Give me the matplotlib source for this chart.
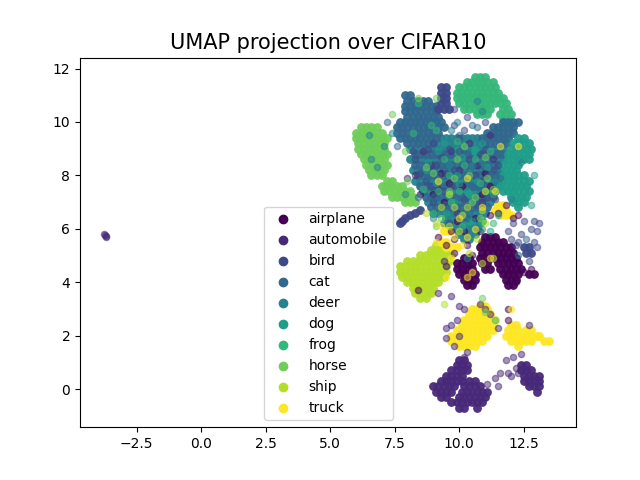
import numpy as np
import matplotlib.pyplot as plt

class_names = ['airplane', 'automobile', 'bird', 'cat', 'deer', 'dog', 'frog', 'horse', 'ship', 'truck']

# dense parts of each cluster: (y, [x values])
airplane_core = [
    (5.7, [11.0, 11.2, 11.4]),
    (5.5, [10.9, 11.1, 11.3, 11.5, 11.7]),
    (5.3, [10.8, 11.0, 11.2, 11.4, 11.6, 11.8, 12.0]),
    (5.1, [10.9, 11.1, 11.3, 11.5, 11.7, 11.9, 12.1]),
    (4.9, [10.2, 10.4, 10.8, 11.0, 11.2, 11.4, 11.6, 11.8, 12.0, 12.2]),
    (4.7, [9.9, 10.1, 10.3, 10.5, 10.9, 11.1, 11.5, 11.7, 11.9, 12.1, 12.3]),
    (4.5, [9.9, 10.1, 10.3, 10.5, 11.0, 11.2, 11.6, 11.8, 12.0, 12.2, 12.4]),
    (4.3, [10.0, 10.2, 10.4, 10.6, 11.7, 11.9, 12.1, 12.3, 12.7, 12.9]),
    (4.1, [10.2, 10.4, 10.6, 11.8, 12.0, 12.2]),
    (3.9, [10.3, 10.5, 11.9, 12.1]),
]
automobile_core = [
    (1.1, [10.0, 10.2]),
    (0.9, [9.9, 10.1, 10.3, 12.4, 12.6]),
    (0.7, [9.7, 9.9, 10.1, 10.3, 12.4, 12.6, 12.8]),
    (0.5, [9.5, 9.7, 9.9, 10.1, 12.5, 12.7, 12.9, 13.1]),
    (0.3, [9.3, 9.5, 9.7, 9.9, 10.1, 10.4, 10.6, 12.5, 12.7, 12.9, 13.1]),
    (0.1, [9.0, 9.2, 9.4, 9.6, 9.8, 10.2, 10.4, 10.6, 10.8, 12.7, 12.9, 13.1]),
    (-0.1, [9.1, 9.3, 9.5, 9.7, 10.1, 10.3, 10.5, 10.7, 10.9, 11.1, 13.0]),
    (-0.3, [9.3, 9.5, 10.0, 10.2, 10.4, 10.6, 10.8, 11.0]),
    (-0.5, [9.7, 9.9, 10.1, 10.3, 10.5, 10.7, 10.9]),
    (-0.7, [10.0, 10.2, 10.7]),
]
bird_core = [
    (11.3, [9.3, 9.5]),
    (11.1, [9.3, 9.5]),
    (10.9, [9.3, 9.5]),
    (10.7, [9.3, 9.5]),
    (10.5, [9.2, 9.4, 9.6]),
    (6.7, [8.5]),
    (6.6, [8.3]),
    (6.5, [8.1]),
    (6.4, [7.9]),
    (6.3, [7.8]),
    (6.2, [7.7]),
    (5.3, [12.5, 12.7]),
    (5.1, [12.6, 12.8]),
]
cat_core = [
    (11.0, [7.9, 8.1]),
    (10.8, [8.0, 8.2, 8.4, 8.6, 8.8]),
    (10.6, [7.9, 8.1, 8.3, 8.5, 8.7, 8.9, 9.1]),
    (10.4, [7.9, 8.1, 8.3, 8.5, 8.7, 8.9, 9.1]),
    (10.2, [8.0, 8.2, 8.4, 8.6, 8.8, 9.0, 9.2]),
    (10.0, [7.7, 7.9, 8.1, 8.3, 8.5, 8.7, 8.9, 9.1, 9.3, 11.7, 11.9, 12.1, 12.3]),
    (9.8, [7.6, 7.8, 8.0, 8.2, 8.4, 8.6, 8.8, 9.0, 9.2, 9.4, 11.3, 11.5, 11.7, 11.9, 12.1]),
    (9.6, [7.6, 7.8, 8.0, 8.2, 8.4, 8.6, 8.8, 9.0, 9.2, 11.1, 11.3, 11.5, 11.7, 11.9, 12.1]),
    (9.4, [7.7, 7.9, 8.1, 8.3, 8.5, 8.7, 8.9, 9.1, 10.9, 11.1, 11.3, 11.5, 11.7, 11.9]),
    (9.2, [8.0, 8.2, 8.4, 8.6, 8.8, 9.0, 11.0, 11.2, 11.4, 11.6, 11.8]),
    (8.8, [8.3, 8.5, 8.7, 8.9, 9.1, 9.3, 9.5, 9.7, 9.9, 10.1, 10.3, 10.5, 10.7, 10.9, 11.1, 11.3, 11.5, 11.7]),
    (8.4, [8.3, 8.5, 8.7, 8.9, 9.1, 9.3, 9.5, 9.7, 9.9, 10.1, 10.3, 10.5, 10.7, 10.9, 11.1, 11.3, 11.5]),
    (8.0, [8.4, 8.6, 8.8, 9.0, 9.2, 9.4, 9.6, 9.8, 10.0, 10.2, 10.4, 10.6, 10.8, 11.0, 11.2, 11.4, 11.6]),
    (7.6, [8.5, 8.7, 8.9, 9.1, 9.3, 9.5, 9.7, 9.9, 10.1, 10.3, 10.5, 10.7, 10.9, 11.1, 11.3, 11.5]),
    (7.2, [8.7, 8.9, 9.1, 9.3, 9.5, 9.7, 9.9, 10.1, 10.3, 10.5, 10.7, 10.9, 11.1, 11.3]),
    (6.8, [8.9, 9.1, 9.3, 9.5, 9.7, 9.9, 10.1, 10.3, 10.5, 10.7, 10.9, 11.1]),
]
deer_core = [
    (9.4, [9.3, 9.5, 9.7, 9.9, 10.1, 10.3, 10.5, 10.7]),
    (9.2, [9.2, 9.4, 9.6, 9.8, 10.0, 10.2, 10.4, 10.6, 10.8]),
    (9.0, [8.1, 8.3, 8.5, 8.7, 8.9, 9.1, 9.3, 9.5, 9.7, 9.9, 10.1, 10.3, 10.5, 10.7, 10.9, 11.1, 11.3, 11.5, 11.7]),
    (8.6, [8.1, 8.3, 8.5, 8.7, 8.9, 9.1, 9.3, 9.5, 9.7, 9.9, 10.1, 10.3, 10.5, 10.7, 10.9, 11.1, 11.3, 11.5, 11.7]),
    (8.2, [8.2, 8.4, 8.6, 8.8, 9.0, 9.2, 9.4, 9.6, 9.8, 10.0, 10.2, 10.4, 10.6, 10.8, 11.0, 11.2, 11.4, 11.6]),
    (7.8, [8.3, 8.5, 8.7, 8.9, 9.1, 9.3, 9.5, 9.7, 9.9, 10.1, 10.3, 10.5, 10.7, 10.9, 11.1, 11.3, 11.5]),
    (7.4, [8.6, 8.8, 9.0, 9.2, 9.4, 9.6, 9.8, 10.0, 10.2, 10.4, 10.6, 10.8, 11.0, 11.2, 11.4]),
    (7.0, [8.8, 9.0, 9.2, 9.4, 9.6, 9.8, 10.0, 10.2, 10.4, 10.6, 10.8, 11.0, 11.2]),
    (6.6, [9.0, 9.2, 9.4, 9.6, 9.8, 10.0, 10.2, 10.4, 10.6, 10.8, 11.0]),
    (6.4, [9.5, 9.7, 9.9, 10.1, 10.3, 10.5, 10.7]),
    (6.2, [9.4, 9.6, 9.8, 10.0, 10.2, 10.4, 10.6, 10.8]),
    (6.0, [9.9, 10.1, 10.3, 10.5, 10.7]),
    (5.8, [10.0, 10.2, 10.4, 10.6]),
    (5.6, [10.2, 10.4]),
]
dog_core = [
    (9.4, [12.3, 12.5]),
    (9.2, [12.1, 12.3, 12.5, 12.7]),
    (9.0, [12.0, 12.2, 12.4, 12.6, 12.8]),
    (8.8, [11.9, 12.1, 12.3, 12.5, 12.7]),
    (8.6, [11.9, 12.1, 12.3, 12.5, 12.7]),
    (8.4, [11.7, 11.9, 12.1, 12.3]),
    (8.2, [11.8, 12.0, 12.2]),
    (8.0, [11.7, 11.9, 12.1, 12.3, 12.5]),
    (7.8, [11.7, 11.9, 12.1, 12.3, 12.5, 12.7]),
    (7.6, [11.6, 11.8, 12.0, 12.2, 12.4, 12.6]),
    (7.4, [11.7, 11.9, 12.1, 12.3, 12.5, 12.7]),
    (7.2, [12.0, 12.2, 12.4, 12.6]),
    (7.0, [12.1, 12.3, 12.5]),
    (6.8, [12.3]),
    (8.9, [9.9, 10.6]),
    (7.3, [9.6, 10.4]),
    (6.3, [10.4, 10.9]),
]
frog_core = [
    (11.7, [10.6, 10.8, 11.0]),
    (11.5, [10.3, 10.5, 10.7, 10.9, 11.1, 11.3]),
    (11.3, [10.0, 10.2, 10.4, 10.6, 10.8, 11.0, 11.2, 11.4]),
    (11.1, [9.9, 10.1, 10.3, 10.5, 10.7, 10.9, 11.1, 11.3, 11.5]),
    (10.9, [9.9, 10.1, 10.3, 10.5, 10.7, 10.9, 11.1, 11.3, 11.5, 11.7]),
    (10.7, [10.0, 10.2, 10.4, 10.6, 10.8, 11.0, 11.2, 11.4, 11.6, 11.8]),
    (10.5, [10.2, 10.4, 10.6, 10.8, 11.0, 11.2, 11.7, 11.9]),
    (10.3, [10.7, 10.9, 11.1, 11.6, 11.8, 12.0]),
    (10.1, [11.7, 11.9]),
]
horse_core = [
    (9.8, [6.2, 6.4, 6.6, 6.8]),
    (9.6, [6.0, 6.2, 6.4, 6.6, 6.8, 7.0]),
    (9.4, [6.0, 6.2, 6.4, 6.6, 6.8, 7.0, 7.2]),
    (9.2, [6.1, 6.3, 6.5, 6.7, 6.9, 7.1]),
    (9.0, [6.1, 6.3, 6.5, 6.7, 6.9, 7.1]),
    (8.8, [6.2, 6.4, 6.6, 6.8, 7.0, 7.2]),
    (8.6, [6.3, 6.5, 6.7, 6.9, 7.1]),
    (8.4, [6.4, 6.6, 6.8, 7.0, 7.2]),
    (8.2, [6.5, 6.7, 6.9, 7.1]),
    (8.0, [6.6, 6.8, 7.0]),
    (7.8, [7.2, 7.4]),
    (7.6, [7.0, 7.2, 7.4, 7.6, 7.8]),
    (7.4, [7.1, 7.3, 7.5, 7.7, 7.9, 8.1]),
    (7.2, [7.4, 7.6, 7.8, 8.0, 8.2]),
    (7.0, [7.9, 8.1, 8.3]),
    (8.5, [9.4, 9.6]),
    (8.7, [9.3, 9.5]),
]
ship_core = [
    (5.4, [9.1, 9.3]),
    (5.2, [8.9, 9.1, 9.3, 9.5]),
    (5.0, [8.5, 8.7, 8.9, 9.1, 9.3, 9.5, 9.7]),
    (4.8, [8.0, 8.2, 8.4, 8.6, 8.8, 9.0, 9.2, 9.4, 9.6]),
    (4.6, [7.7, 7.9, 8.1, 8.3, 8.5, 8.7, 8.9, 9.1, 9.3, 9.5]),
    (4.4, [7.7, 7.9, 8.1, 8.3, 8.5, 8.7, 8.9, 9.1, 9.3, 9.5]),
    (4.2, [7.8, 8.0, 8.2, 8.4, 8.6, 8.8, 9.0, 9.2, 9.4]),
    (4.0, [8.0, 8.2, 8.4, 8.6, 8.8, 9.0, 9.2]),
    (3.8, [8.2, 8.4, 8.6, 8.8, 9.0]),
    (3.6, [8.3, 8.5, 8.7, 8.9]),
    (3.4, [8.5, 8.7]),
]
truck_core = [
    (3.1, [10.8, 11.0]),
    (3.0, [10.5, 10.7, 10.9, 11.1]),
    (2.8, [10.4, 10.6, 10.8, 11.0, 11.2]),
    (2.6, [10.2, 10.4, 10.6, 10.8, 11.0, 11.2, 11.4]),
    (2.4, [10.1, 10.3, 10.5, 10.7, 10.9, 11.1, 11.3, 12.0, 12.2]),
    (2.2, [9.9, 10.1, 10.3, 10.5, 10.7, 10.9, 11.1, 11.3, 11.9, 12.1, 12.3, 12.6, 12.8]),
    (2.0, [9.7, 9.9, 10.1, 10.3, 10.5, 10.7, 10.9, 11.1, 11.8, 12.0, 12.2, 12.4, 12.6, 12.8, 13.0, 13.1]),
    (1.8, [9.7, 9.9, 10.1, 10.3, 10.5, 10.7, 10.9, 12.0, 12.2, 12.4, 12.6, 12.8, 13.3, 13.5]),
    (1.6, [10.0, 10.2, 10.4, 10.6, 12.3]),
    (6.9, [11.5, 11.7]),
    (6.7, [11.4, 11.6, 11.8]),
    (6.5, [11.6, 11.8, 12.0]),
    (5.9, [9.4, 9.6]),
    (5.5, [9.3, 9.5]),
    (5.3, [9.5, 9.7, 9.9]),
]

# lone points scattered over the clusters
airplane_sparse = [(9.7, 5.9), (10.3, 5.4), (12.3, 6.5), (12.1, 6.4), (11.8, 6.9), (10.9, 7.3), (9.6, 7.7), (10.6, 6.4), (9.3, 8.1), (11.2, 7.6),
                   (9.5, 4.6), (9.8, 5.1), (10.5, 5.0), (12.5, 4.4), (12.8, 4.5), (12.2, 4.0), (8.4, 3.7), (11.9, 2.6), (11.9, 3.0), (9.8, 5.6),
                   (9.2, 5.7), (9.5, 5.4), (9.9, 6.3), (10.2, 5.9), (10.8, 5.9), (11.2, 6.5), (11.5, 6.6), (9.0, 7.3), (9.4, 7.0), (10.1, 7.6), (8.5, 7.3), (11.0, 8.1)]
automobile_sparse = [(-3.75, 5.8), (-3.73, 5.77), (-3.7, 5.74), (-3.68, 5.71), (10.0, 3.1), (10.2, 3.0), (9.9, 2.6), (9.7, 2.4), (9.5, 1.9), (9.8, 1.6), (9.5, 2.3), (11.2, 2.8), (12.7, 2.4), (11.5, 2.3),
                     (10.2, 1.2), (10.3, 1.4), (11.6, 0.6), (11.4, 0.4), (11.1, 0.2), (11.5, 0.1), (11.9, 0.6), (12.2, 0.8), (12.0, 0.5), (12.3, 0.6),
                     (11.8, 1.1), (12.4, 1.3), (12.1, 1.2), (9.4, 4.8), (10.8, 3.2), (11.0, 3.0), (10.0, 2.0), (9.7, 3.5), (9.2, 3.6),
                     (8.0, 7.9), (9.2, 7.5), (10.7, 8.4), (8.9, 8.4), (9.7, 8.9), (10.4, 9.2), (10.9, 7.0), (9.9, 6.6), (8.6, 8.9), (11.3, 8.6), (8.3, 8.0), (10.0, 8.2), (11.2, 9.5)]
bird_sparse = [(12.1, 6.2), (12.5, 6.3), (12.9, 6.3), (13.1, 6.2), (12.8, 6.0), (13.0, 5.9), (12.4, 5.8), (12.0, 5.6), (11.9, 5.9), (12.9, 5.5),
               (13.0, 5.3), (12.3, 5.5), (12.7, 4.8), (12.2, 5.4), (9.0, 9.2), (9.8, 9.9), (10.2, 9.7), (9.1, 8.4), (8.7, 7.8), (9.4, 7.4), (10.0, 8.9),
               (10.6, 8.0), (11.3, 8.2), (10.2, 7.1), (9.8, 8.2), (8.3, 8.6), (9.0, 7.0), (11.0, 9.0), (11.4, 7.1), (8.5, 8.1), (10.9, 7.8), (9.6, 9.0), (9.8, 10.5), (10.3, 10.2), (11.0, 10.0),
               (8.2, 8.9), (8.8, 9.0), (9.3, 8.7), (9.7, 7.6), (10.4, 8.6), (10.8, 8.8), (11.5, 8.4), (10.3, 6.4), (9.6, 6.2), (8.9, 7.6), (11.1, 7.2), (10.7, 6.9), (10.0, 9.4), (9.5, 8.1)]
cat_sparse = [(7.6, 9.1), (12.3, 5.0), (12.6, 5.6), (7.2, 10.0), (9.0, 7.2), (10.4, 6.6), (11.6, 7.9), (10.0, 9.5), (8.8, 7.9), (11.7, 9.3), (10.7, 9.8), (8.4, 7.2),
              (10.5, 9.9), (9.2, 8.0), (9.8, 7.2), (10.6, 7.6), (11.2, 8.0), (8.8, 8.7), (9.5, 6.9), (10.1, 6.0)]
deer_sparse = [(9.7, 9.7), (9.9, 10.0), (10.7, 10.8), (10.9, 10.4), (7.4, 9.6), (7.1, 9.1), (6.5, 9.5), (6.6, 8.6), (6.8, 8.3), (10.3, 4.9),
               (9.0, 6.4), (7.9, 7.3), (12.4, 8.5), (12.0, 7.1), (9.6, 8.4), (10.5, 8.4), (9.3, 7.8), (10.9, 8.5), (11.4, 7.8)]
dog_sparse = [(9.2, 8.9), (10.5, 6.3), (10.9, 6.0), (11.2, 5.9), (9.9, 8.0), (10.6, 9.0), (8.8, 8.5), (11.1, 8.3), (10.3, 7.4), (9.5, 6.6), (11.5, 6.5), (10.0, 7.7), (12.9, 8.0), (12.8, 6.9),
              (9.1, 7.7), (9.8, 7.0), (10.7, 7.8), (11.3, 7.3), (8.7, 8.2), (10.1, 8.7), (10.9, 9.2), (9.4, 9.2)]
frog_sparse = [(9.1, 9.7), (8.4, 10.7), (9.9, 9.3), (8.9, 9.9), (10.2, 8.4), (9.4, 8.6), (10.8, 7.7), (9.0, 6.6), (8.2, 9.6), (11.2, 8.9), (10.1, 6.1), (11.3, 6.2), (9.7, 7.0), (8.6, 7.5), (11.4, 2.6),
               (10.6, 8.6), (9.2, 7.4), (10.0, 7.4), (11.0, 7.4), (9.6, 8.0)]
horse_sparse = [(7.4, 10.3), (9.1, 10.9), (8.4, 10.9), (7.9, 8.9), (8.7, 8.3), (9.9, 8.6), (10.6, 7.2), (11.0, 8.7), (11.3, 7.5), (9.1, 6.1), (9.8, 7.9), (10.4, 8.0), (8.0, 7.8), (10.2, 9.1), (10.9, 3.4), (11.0, 2.9), (9.3, 6.4),
                (9.0, 8.1), (9.6, 7.4), (10.5, 7.0), (11.1, 7.9), (10.8, 6.4)]
ship_sparse = [(9.1, 6.2), (9.6, 6.1), (10.4, 5.1), (10.0, 5.9), (10.9, 4.7), (10.7, 5.6), (10.3, 6.8), (10.9, 6.7), (9.8, 6.8), (11.0, 7.4), (11.3, 4.9), (8.7, 6.6), (9.6, 7.3), (9.4, 3.2),
               (9.3, 6.8), (10.1, 6.5), (11.0, 6.2)]
truck_sparse = [(12.3, 9.1), (11.6, 9.1), (10.9, 6.8), (10.3, 5.7), (10.1, 5.4), (10.5, 4.4), (10.3, 4.2), (11.2, 4.9), (11.4, 7.4), (10.0, 6.4), (12.0, 3.0), (9.5, 4.2), (9.2, 7.8), (10.3, 7.9), (9.7, 4.9),
                (9.8, 5.7), (9.3, 6.1), (10.6, 6.0), (9.1, 5.5)]

core_rows = [airplane_core, automobile_core, bird_core, cat_core, deer_core, dog_core, frog_core, horse_core, ship_core, truck_core]
sparse_points = [airplane_sparse, automobile_sparse, bird_sparse, cat_sparse, deer_sparse, dog_sparse, frog_sparse, horse_sparse, ship_sparse, truck_sparse]


def flatten_rows(rows):
    x = []
    y = []
    for row_y, row_x in rows:
        for value in row_x:
            x.append(value)
            y.append(row_y)
    return x, y


def main():
    colors = plt.cm.viridis(np.linspace(0, 1, len(class_names)))

    fig, ax = plt.subplots()

    # the dense clusters first, then the lone points over them
    for i in [6, 7, 4, 3, 5, 2, 8, 0, 1, 9]:
        x, y = flatten_rows(core_rows[i])
        ax.scatter(x, y, s=40, color=colors[i], alpha=0.95, linewidths=0)
    for i in range(len(class_names)):
        x = [p[0] for p in sparse_points[i]]
        y = [p[1] for p in sparse_points[i]]
        ax.scatter(x, y, s=20, color=colors[i], alpha=0.5)

    # empty scatters so the legend gets solid markers
    for i, name in enumerate(class_names):
        ax.scatter([], [], color=colors[i], label=name)
    ax.legend(loc='lower left', bbox_to_anchor=(0.371, 0.019), borderaxespad=0)

    ax.set_xlim(-4.69, 14.53)
    ax.set_ylim(-1.43, 12.41)
    ax.set_title('UMAP projection over CIFAR10', fontsize=15)

    fig.savefig('out.png', dpi=100)


if __name__ == "__main__":
    main()
